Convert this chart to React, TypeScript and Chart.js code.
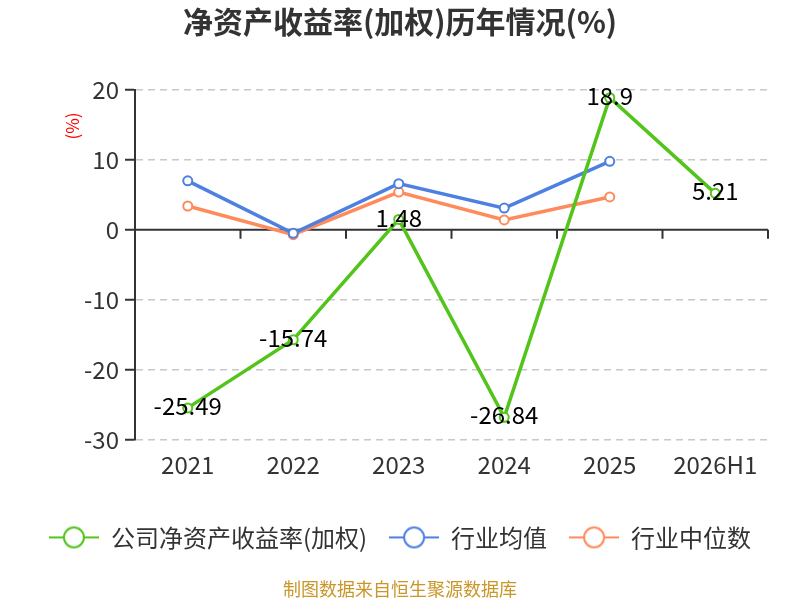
import { useEffect, useRef } from "react";
import { Chart, registerables, type Plugin } from "chart.js";

Chart.register(...registerables);

const FONT = '"Noto Sans CJK SC", "Noto Sans", sans-serif';

// values
const years = ["2021", "2022", "2023", "2024", "2025", "2026H1"];
const companyRoe = [-25.49, -15.74, 1.48, -26.84, 18.9, 5.21];
const industryAvg = [7.0, -0.5, 6.6, 3.1, 9.8, null];
const industryMedian = [3.4, -0.7, 5.4, 1.4, 4.7, null];
const seriesNames = ["公司净资产收益率(加权)", "行业均值", "行业中位数"];
const seriesColors = ["#52c41a", "#4e80e2", "#ff8b5c"];

const yTicks = { min: -30, max: 20, step: 10 };

// little "-o-" icon for legend entries
function legendIcon(color: string) {
  const c = document.createElement("canvas");
  c.width = 50;
  c.height = 24;
  const ctx = c.getContext("2d")!;
  ctx.strokeStyle = color;
  ctx.lineWidth = 2;
  ctx.beginPath();
  ctx.moveTo(0, 12);
  ctx.lineTo(50, 12);
  ctx.stroke();
  ctx.beginPath();
  ctx.arc(25, 12, 10, 0, Math.PI * 2);
  ctx.fillStyle = "#fff";
  ctx.fill();
  ctx.stroke();
  return c;
}

// solid zero line with tick marks at category boundaries
const zeroAxis: Plugin = {
  id: "zeroAxis",
  beforeDatasetsDraw(chart) {
    const { ctx, chartArea, scales } = chart;
    const y0 = scales.y.getPixelForValue(0);
    const x = scales.x;
    const step = x.getPixelForValue(1) - x.getPixelForValue(0);
    ctx.save();
    ctx.strokeStyle = "#333";
    ctx.lineWidth = 2;
    ctx.beginPath();
    ctx.moveTo(chartArea.left, y0);
    ctx.lineTo(chartArea.right, y0);
    for (let i = 0; i <= years.length; i++) {
      const px = x.getPixelForValue(0) - step / 2 + i * step;
      ctx.moveTo(px, y0);
      ctx.lineTo(px, y0 + 9);
    }
    ctx.stroke();
    ctx.restore();
  },
};

// value labels on the company line + the "(%)" unit
const valueLabels: Plugin = {
  id: "valueLabels",
  afterDatasetsDraw(chart) {
    const { ctx, chartArea } = chart;
    const meta = chart.getDatasetMeta(0);
    ctx.save();
    ctx.font = `24px ${FONT}`;
    ctx.fillStyle = "#000";
    ctx.textAlign = "center";
    ctx.textBaseline = "middle";
    meta.data.forEach((pt, i) => {
      ctx.fillText(String(companyRoe[i]), pt.x, pt.y - 2);
    });
    ctx.translate(73, chartArea.top + 36);
    ctx.rotate(-Math.PI / 2);
    ctx.font = `17px ${FONT}`;
    ctx.fillStyle = "#f00";
    ctx.fillText("(%)", 0, 0);
    ctx.restore();
  },
};

export default function App() {
  const canvasRef = useRef<HTMLCanvasElement>(null);

  useEffect(() => {
    if (!canvasRef.current) return;
    const icons = seriesColors.map(legendIcon);
    const values = [companyRoe, industryAvg, industryMedian];

    const chart = new Chart(canvasRef.current, {
      type: "line",
      data: {
        labels: years,
        datasets: values.map((v, i) => ({
          label: seriesNames[i],
          data: v,
          borderColor: seriesColors[i],
          backgroundColor: "#fff",
          borderWidth: 3.5,
          pointRadius: 4.5,
          pointBorderWidth: 2,
          pointBackgroundColor: "#fff",
          pointBorderColor: seriesColors[i],
          tension: 0,
          spanGaps: false,
        })),
      },
      options: {
        responsive: false,
        animation: false,
        layout: { padding: 0 },
        font: { family: FONT },
        plugins: {
          title: {
            display: true,
            text: "净资产收益率(加权)历年情况(%)",
            color: "#333",
            font: { family: FONT, size: 30, weight: "bold" },
            padding: { top: 4, bottom: 50 },
          },
          legend: {
            position: "bottom",
            labels: {
              usePointStyle: true,
              pointStyleWidth: 50,
              padding: 22,
              color: "#333",
              font: { family: FONT, size: 24 },
              generateLabels: (c) =>
                c.data.datasets.map((ds, i) => ({
                  text: ds.label as string,
                  pointStyle: icons[i],
                  fillStyle: "#fff",
                  strokeStyle: seriesColors[i],
                  lineWidth: 0,
                  fontColor: "#333",
                  hidden: false,
                  datasetIndex: i,
                })),
            },
          },
          subtitle: {
            display: true,
            position: "bottom",
            text: "制图数据来自恒生聚源数据库",
            color: "#c99628",
            font: { family: FONT, size: 18 },
            padding: { top: 19, bottom: 0 },
          },
          tooltip: { enabled: false },
        },
        scales: {
          x: {
            offset: true,
            grid: { display: false, drawTicks: false },
            border: { display: false },
            ticks: { color: "#333", font: { family: FONT, size: 24 }, padding: 11 },
            afterFit: (s) => {
              s.height = 64;
            },
          },
          y: {
            min: yTicks.min,
            max: yTicks.max,
            ticks: {
              stepSize: yTicks.step,
              color: "#333",
              font: { family: FONT, size: 24 },
              padding: 6,
            },
            grid: {
              color: (c) => (c.tick && c.tick.value === 0 ? "rgba(0,0,0,0)" : "#c8c8c8"),
              lineWidth: 1.5,
              tickColor: "#333",
              tickLength: 10,
              tickWidth: 2,
            },
            border: { display: true, color: "#333", width: 2, dash: [7, 5] },
            afterFit: (s) => {
              s.width = 135;
            },
          },
          // empty right-hand gutter so legend/footer stay centred on the canvas
          gutter: {
            type: "linear",
            position: "right",
            display: true,
            grid: { display: false, drawTicks: false },
            border: { display: false },
            ticks: { display: false },
            afterFit: (s) => {
              s.width = 32;
            },
          },
        },
      },
      plugins: [zeroAxis, valueLabels],
    });

    return () => chart.destroy();
  }, []);

  return (
    <div style={{ position: "absolute", left: 0, top: 0, width: 800, height: 600, background: "#fff" }}>
      <canvas ref={canvasRef} width={800} height={600} />
    </div>
  );
}
